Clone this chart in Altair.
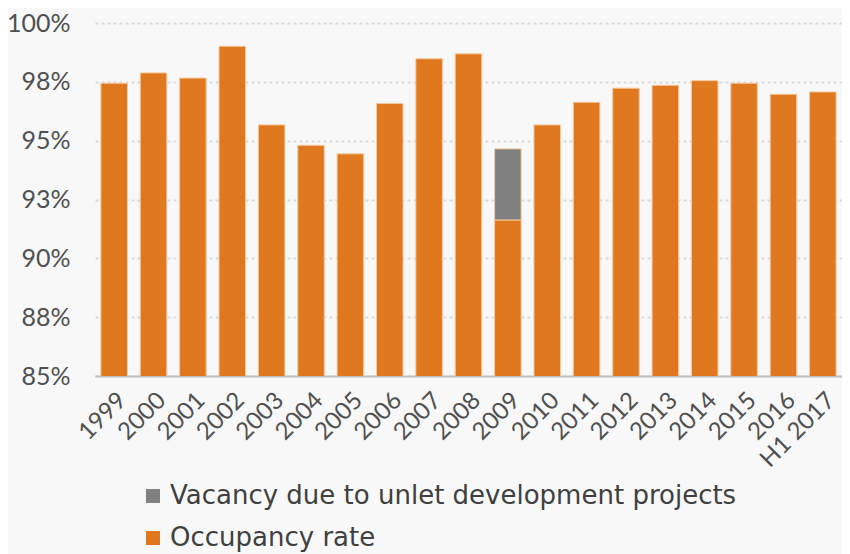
import altair as alt
import pandas as pd

years = ["1999", "2000", "2001", "2002", "2003", "2004", "2005", "2006", "2007",
         "2008", "2009", "2010", "2011", "2012", "2013", "2014", "2015", "2016", "H1 2017"]
occupancy = [97.44, 97.88, 97.66, 99.01, 95.67, 94.80, 94.44, 96.58, 98.48,
             98.69, 91.63, 95.67, 96.63, 97.23, 97.35, 97.55, 97.44, 96.97, 97.07]
vacancy_dev = [0, 0, 0, 0, 0, 0, 0, 0, 0,
               0, 3.02, 0, 0, 0, 0, 0, 0, 0, 0]

series_names = ["Vacancy due to unlet development projects", "Occupancy rate"]
series_colors = ["#808080", "#DF781E"]
y_ticks = [85, 87.5, 90, 92.5, 95, 97.5, 100]

rows = []
for y, o, v in zip(years, occupancy, vacancy_dev):
    rows.append({"year": y, "series": series_names[1], "value": o, "ord": 0})
    if v > 0:
        rows.append({"year": y, "series": series_names[0], "value": v, "ord": 1})
df = pd.DataFrame(rows)

FONT = "Lato"
LEGEND_FONT = "DejaVu Sans"

chart = alt.Chart(df).mark_bar(
    clip=True, stroke="#f6c79c", strokeWidth=1
).encode(
    x=alt.X("year:N", sort=years, title=None,
            scale=alt.Scale(paddingInner=0.326, paddingOuter=0.15),
            axis=alt.Axis(labelAngle=-45, labelAlign="right", labelBaseline="top",
                          labelPadding=12, ticks=False, domain=True,
                          domainColor="#bfbfbf", domainWidth=2,
                          labelFontSize=24, labelColor="#505050", labelFont=FONT,
                          grid=False)),
    y=alt.Y("value:Q", stack="zero", title=None,
            scale=alt.Scale(domain=[85, 100], nice=False, zero=False),
            axis=alt.Axis(values=y_ticks, labelExpr="format(datum.value, '.0f') + '%'",
                          ticks=False, domain=False, labelPadding=25,
                          labelFontSize=25, labelColor="#505050", labelFont=FONT,
                          grid=True, gridColor="#d9d9d9", gridDash=[3, 3], gridWidth=2)),
    color=alt.Color("series:N",
                    scale=alt.Scale(domain=series_names, range=series_colors),
                    legend=alt.Legend(title=None, orient="none", legendX=45, legendY=460,
                                      direction="vertical", symbolType="square",
                                      symbolSize=196, symbolStrokeWidth=0,
                                      labelFontSize=26, labelFont=LEGEND_FONT, labelColor="#404040",
                                      rowPadding=16, labelOffset=4, labelLimit=800)),
    order=alt.Order("ord:Q"),
).properties(
    width=747, height=353,
    autosize=alt.AutoSizeParams(type="none"),
    padding={"left": 87, "top": 15, "right": 0, "bottom": 178},
    background="#f8f8f8",
).configure_view(stroke=None)

chart.save("out.html", embed_options={"renderer": "svg", "actions": False})
